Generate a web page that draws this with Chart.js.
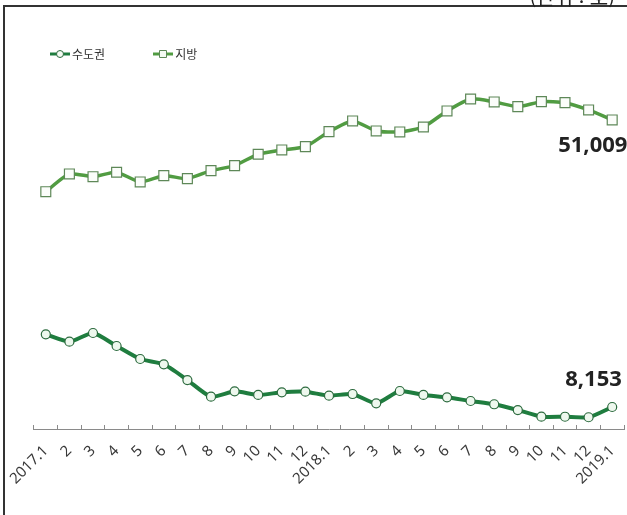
<!DOCTYPE html>
<html lang="ko">
<head>
<meta charset="utf-8">
<title>미분양 주택 추이</title>
<script src="https://cdn.jsdelivr.net/npm/chart.js@4"></script>
<style>
  html, body { margin: 0; padding: 0; background: #fff; }
  #wrap { position: relative; width: 627px; height: 515px; overflow: hidden; }
  #chart { position: absolute; left: 0; top: 0; }
  #frame { position: absolute; left: 3px; top: 5px; width: 640px; height: 530px;
           border-left: 2px solid #333; border-top: 2px solid #333; pointer-events: none; }
  #unit { position: absolute; right: 12px; top: -18px; font: 20px "Noto Sans CJK KR", sans-serif; color: #222; }
  #legend { position: absolute; left: 50px; top: 45px; display: flex; align-items: center;
            font: 12px "Noto Sans CJK KR", sans-serif; color: #333; }
  #legend .item { display: flex; align-items: center; }
  #legend canvas { margin-right: 2px; }
</style>
</head>
<body>
<div id="wrap">
  <canvas id="chart" width="627" height="515"></canvas>
  <div id="frame"></div>
  <div id="unit">(단위 : 호)</div>
  <div id="legend"></div>
</div>
<script>
// Months from 2017.1 to 2019.1
const months = ['2017.1','2','3','4','5','6','7','8','9','10','11','12',
                '2018.1','2','3','4','5','6','7','8','9','10','11','12','2019.1'];

// Unsold homes, capital region (수도권)
const capitalArea = [19000, 17900, 19200, 17260, 15320, 14530, 12180, 9690, 10500, 9950, 10350, 10440,
                     9840, 10090, 8700, 10540, 9950, 9600, 9050, 8560, 7700, 6710, 6700, 6620, 8153];

// Unsold homes, provinces (지방)
const provinces = [40300, 42950, 42540, 43200, 41750, 42690, 42250, 43440, 44190, 45890, 46530, 47020,
                   49260, 50860, 49370, 49220, 49960, 52350, 54140, 53700, 53000, 53740, 53590, 52500, 51009];

const seriesNames = ['수도권', '지방'];

const darkGreen = '#1f7d3f';
const midGreen = '#519c42';

// small legend swatch: line with marker
function swatch(color, shape, markerBorder) {
  const c = document.createElement('canvas');
  c.width = 20; c.height = 12;
  const g = c.getContext('2d');
  g.strokeStyle = color; g.lineWidth = 3;
  g.beginPath(); g.moveTo(0, 6); g.lineTo(20, 6); g.stroke();
  g.fillStyle = '#f4fbf3'; g.strokeStyle = markerBorder; g.lineWidth = 1;
  g.beginPath();
  if (shape === 'circle') g.arc(10, 6, 3.5, 0, Math.PI * 2);
  else g.rect(6.5, 2.5, 7, 7);
  g.fill(); g.stroke();
  return c;
}

const legend = document.getElementById('legend');
[[seriesNames[0], darkGreen, 'circle', '#2d6b3f', 0], [seriesNames[1], midGreen, 'rect', '#5e8858', 48]].forEach(([name, col, shape, mb, gap]) => {
  const item = document.createElement('div');
  item.className = 'item';
  item.style.marginLeft = gap + 'px';
  item.appendChild(swatch(col, shape, mb));
  const t = document.createElement('span');
  t.textContent = name;
  item.appendChild(t);
  legend.appendChild(item);
});

// writes the latest value next to the last point of each series
const lastValueLabel = {
  id: 'lastValueLabel',
  afterDatasetsDraw(chart) {
    const ctx = chart.ctx;
    chart.data.datasets.forEach((ds, i) => {
      const meta = chart.getDatasetMeta(i);
      const n = ds.data.length - 1;
      const pt = meta.data[n];
      const off = ds.valueLabelOffset;
      ctx.save();
      ctx.font = 'bold 22px "Noto Sans", sans-serif';
      ctx.fillStyle = '#222';
      ctx.textAlign = 'left';
      ctx.textBaseline = 'middle';
      ctx.fillText(ds.data[n].toLocaleString('en-US'), pt.x + off[0], pt.y + off[1]);
      ctx.restore();
    });
  }
};

new Chart(document.getElementById('chart'), {
  type: 'line',
  data: {
    labels: months,
    datasets: [
      {
        label: seriesNames[0],
        data: capitalArea,
        borderColor: darkGreen,
        borderWidth: 4,
        tension: 0.2,
        pointStyle: 'circle',
        pointRadius: 4.5,
        pointBackgroundColor: '#eef8ee',
        pointBorderColor: '#2d6b3f',
        pointBorderWidth: 1.2,
        valueLabelOffset: [-47, -27]
      },
      {
        label: seriesNames[1],
        data: provinces,
        borderColor: midGreen,
        borderWidth: 3.5,
        tension: 0.2,
        pointStyle: 'rect',
        pointRadius: 7,
        pointBackgroundColor: '#fbfdfa',
        pointBorderColor: '#5e8858',
        pointBorderWidth: 1.2,
        valueLabelOffset: [-54, 26]
      }
    ]
  },
  options: {
    responsive: false,
    animation: false,
    layout: { autoPadding: false, padding: { left: 34, right: 3, top: 60, bottom: 0 } },
    plugins: { legend: { display: false }, tooltip: { enabled: false } },
    scales: {
      y: { display: false, min: 4868, max: 59960 },
      x: {
        offset: true,
        grid: { offset: true, drawOnChartArea: false, drawTicks: true, tickLength: -4, color: '#8a8a8a' },
        border: { display: true, color: '#8a8a8a', width: 1 },
        ticks: {
          autoSkip: false, minRotation: 45, maxRotation: 45, padding: 17,
          color: '#3a3a3a', font: { family: '"Noto Sans", sans-serif', size: 15 }
        },
        afterFit(scale) {
          scale.height = 86;
          // rotated labels hang below-left of their ticks; keep the plot width fixed
          scale.paddingLeft = 0;
          scale.paddingRight = 0;
        }
      }
    }
  },
  plugins: [lastValueLabel]
});
</script>
</body>
</html>
